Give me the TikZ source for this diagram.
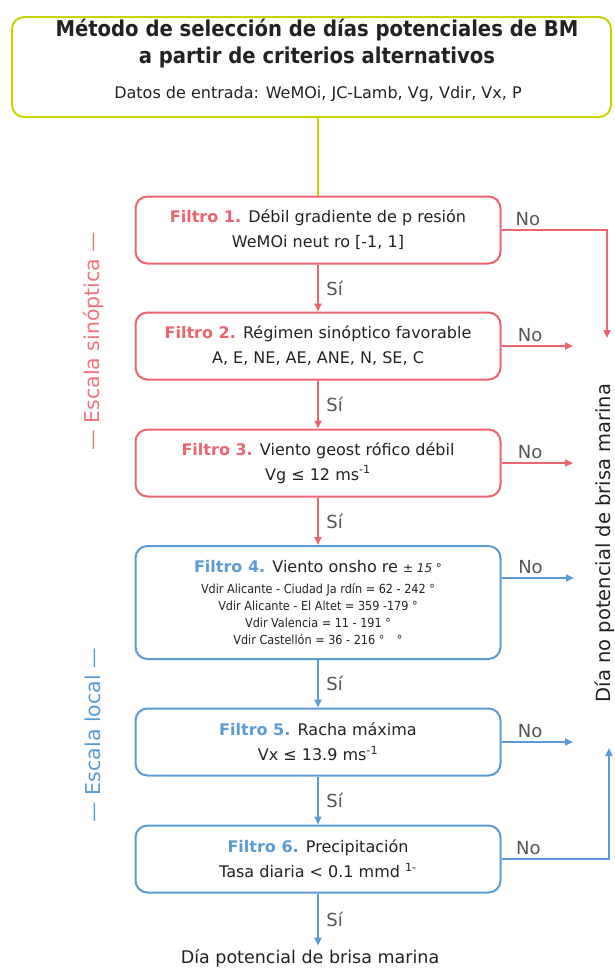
\documentclass[tikz,border=0pt]{standalone}
\usepackage{fontspec}
\setmainfont{DejaVu Sans}
\newfontfamily\estrecha{DejaVu Sans Condensed}
\usetikzlibrary{arrows.meta}
\definecolor{rojo}{HTML}{EB6470}
\definecolor{azul}{HTML}{5B9BD5}
\definecolor{lima}{HTML}{C8D400}
\definecolor{texto}{HTML}{222222}
\definecolor{gris}{HTML}{555555}
\newcommand{\filtro}[2]{{\bfseries\color{#1}#2}\hspace{0.45em}}
\newcommand{\chica}{\estrecha\fontsize{12.5}{17}\selectfont}

\begin{document}
\begin{tikzpicture}[x=1pt,y=-1pt,
		caja/.style={draw, line width=2pt, rounded corners=12pt, minimum width=365pt,
				minimum height=67pt, align=center, text=texto, inner sep=0pt,
				font=\fontsize{16}{25}\selectfont},
		flecha/.style={line width=2pt, -{Triangle[length=8pt,width=7pt]}},
		linea/.style={line width=2.5pt},
		etiqueta/.style={text=gris, font=\fontsize{18}{20}\selectfont},
		escala/.style={rotate=90, font=\fontsize{20.5}{22}\selectfont},
	]
	\useasboundingbox (0,0) rectangle (614,970);

	% Cabecera
	\node[caja, draw=lima, line width=2pt, minimum width=599pt, minimum height=100pt] (titulo) at (311.5,67) {};
	\node[text=texto, align=center, font=\estrecha\bfseries\fontsize{21.8}{27}\selectfont] (tit1) at (317,44)
		{Método de selección de días potenciales de BM\\a partir de criterios alternativos};
	\node[text=texto, font=\fontsize{16}{20}\selectfont] (tit2) at (318,94)
		{Datos de entrada: WeMOi, JC-Lamb, Vg, Vdir, Vx, P};

	% Filtros de escala sinóptica
	\node[caja, draw=rojo] (f1) at (318,230)
		{\filtro{rojo}{Filtro 1.}Débil gradiente de p resión\\WeMOi neut ro [-1, 1]};
	\node[caja, draw=rojo] (f2) at (318,346)
		{\filtro{rojo}{Filtro 2.}Régimen sinóptico favorable\\A, E, NE, AE, ANE, N, SE, C};
	\node[caja, draw=rojo] (f3) at (318,463)
		{\filtro{rojo}{Filtro 3.}Viento geost rófico débil\\Vg ≤ 12 ms\textsuperscript{-1}};

	% Filtros de escala local
	\node[caja, draw=azul, minimum height=113pt] (f4) at (318,602.5)
		{\filtro{azul}{Filtro 4.}Viento onsho re {\itshape\fontsize{12}{14}\selectfont± 15 °}\\[-4pt]
		\chica Vdir Alicante - Ciudad Ja rdín = 62 - 242 °\\[-8pt]
		\chica Vdir Alicante - El Altet = 359 -179 °\\[-8pt]
		\chica Vdir Valencia = 11 - 191 °\\[-8pt]
		\chica Vdir Castellón = 36 - 216 °\quad °};
	\node[caja, draw=azul] (f5) at (318,742)
		{\filtro{azul}{Filtro 5.}Racha máxima\\Vx ≤ 13.9 ms\textsuperscript{-1}};
	\node[caja, draw=azul] (f6) at (318,859)
		{\filtro{azul}{Filtro 6.}Precipitación\\Tasa diaria < 0.1 mmd \textsuperscript{1-}};

	% Resultados
	\node[text=texto, font=\fontsize{17.5}{20}\selectfont] (si) at (310,958) {Día potencial de brisa marina};
	\node[escala, text=texto, font=\fontsize{19.5}{22}\selectfont] (nosi) at (605,543) {Día no potencial de brisa marina};
	\node[escala, text=rojo!90] (sinop) at (93,341) {— Escala sinóptica —};
	\node[escala, text=azul] (local) at (93,735) {— Escala local —};

	% Puntos finales de las ramas "No"
	\coordinate (n1) at (607,338);
	\coordinate (n2) at (573,346);
	\coordinate (n3) at (573,463);
	\coordinate (n4) at (574,578);
	\coordinate (n5) at (573,742);
	\coordinate (n6) at (609,748);

	% Conectores "Sí"
	\draw[linea, lima] (titulo.south -| f1.north) -- (f1.north);
	\draw[flecha, rojo] (f1) -- (f2) node[midway, right, xshift=4pt, etiqueta] {Sí};
	\draw[flecha, rojo] (f2) -- (f3) node[midway, right, xshift=4pt, etiqueta] {Sí};
	\draw[flecha, rojo] (f3) -- (f4) node[midway, right, xshift=4pt, etiqueta] {Sí};
	\draw[flecha, azul] (f4) -- (f5) node[midway, right, xshift=4pt, etiqueta] {Sí};
	\draw[flecha, azul] (f5) -- (f6) node[midway, right, xshift=4pt, etiqueta] {Sí};
	\draw[flecha, azul] (f6.south) -- (f6.south |- si.north) node[midway, right, xshift=4pt, etiqueta] {Sí};

	% Conectores "No"
	\draw[flecha, rojo] (f1.east) -- (f1.east -| n1) node[pos=0.25, above, etiqueta] {No} -- (n1);
	\draw[flecha, rojo] (f2.east) -- (n2) node[pos=0.4, above, etiqueta] {No};
	\draw[flecha, rojo] (f3.east) -- (n3) node[pos=0.4, above, etiqueta] {No};
	\draw[flecha, azul] (f4.east |- n4) -- (n4) node[pos=0.4, above, etiqueta] {No};
	\draw[flecha, azul] (f5.east) -- (n5) node[pos=0.4, above, etiqueta] {No};
	\draw[flecha, azul] (f6.east) -- (f6.east -| n6) node[pos=0.25, above, etiqueta] {No} -- (n6);
\end{tikzpicture}
\end{document}
